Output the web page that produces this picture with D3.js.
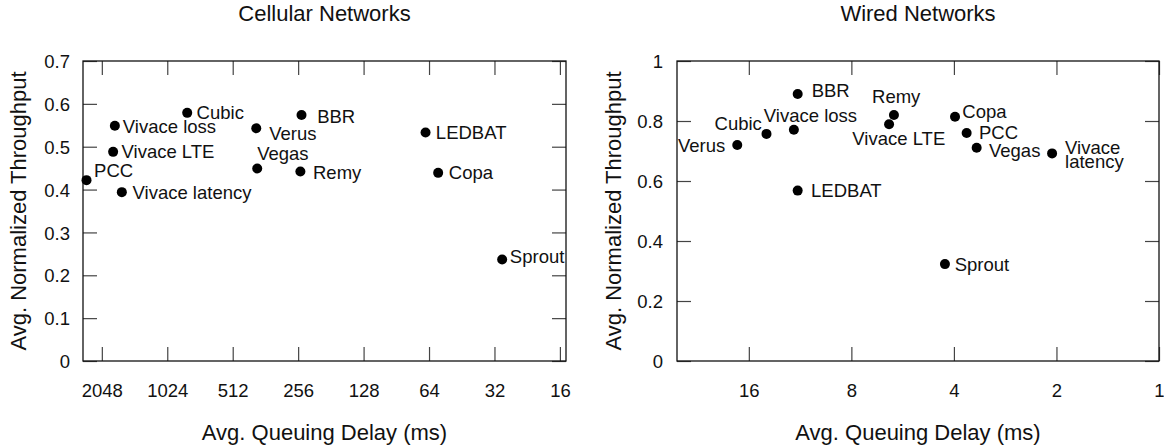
<!DOCTYPE html>
<html>
<head>
<meta charset="utf-8">
<script src="https://cdn.jsdelivr.net/npm/d3@7"></script>
<style>
  html, body { margin: 0; padding: 0; background: #fff; }
  svg { display: block; }
  text { font-family: Helvetica, "Liberation Sans", Arial, sans-serif; fill: #111; }
</style>
</head>
<body>
<svg id="chart" width="1164" height="448"></svg>
<script>
// ---------- data ----------
const cellularNames = ["PCC", "Vivace loss", "Vivace LTE", "Vivace latency", "Cubic", "Verus", "Vegas", "BBR", "Remy", "LEDBAT", "Copa", "Sprout"];
const cellularDelay = [2409, 1784, 1817, 1657, 829, 399, 395, 247, 250, 66.4, 58.1, 29.5];
const cellularThroughput = [0.422, 0.549, 0.488, 0.394, 0.579, 0.543, 0.449, 0.574, 0.442, 0.533, 0.439, 0.237];
const cellularXTicks = [2048, 1024, 512, 256, 128, 64, 32, 16];
const cellularYTicks = [0, 0.1, 0.2, 0.3, 0.4, 0.5, 0.6, 0.7];

const wiredNames = ["BBR", "Vivace loss", "Cubic", "Verus", "LEDBAT", "Remy", "Vivace LTE", "Copa", "PCC", "Vegas", "Vivace latency", "Sprout"];
const wiredDelay = [11.5, 11.8, 14.2, 17.3, 11.5, 6.0, 6.2, 3.97, 3.67, 3.43, 2.06, 4.25];
const wiredThroughput = [0.89, 0.771, 0.757, 0.72, 0.568, 0.82, 0.789, 0.814, 0.76, 0.711, 0.692, 0.323];
const wiredXTicks = [16, 8, 4, 2, 1];
const wiredYTicks = [0, 0.2, 0.4, 0.6, 0.8, 1];

const titles = ["Cellular Networks", "Wired Networks"];
const xTitle = "Avg. Queuing Delay (ms)";
const yTitle = "Avg. Normalized Throughput";

// ---------- layout (label placement, not data) ----------
const cellularLabelLayout = {
  "PCC": {a: "start", dx: 7.6, dy: -3},
  "Vivace loss": {a: "start", dx: 8, dy: 7},
  "Vivace LTE": {a: "start", dx: 8.4, dy: 6.6},
  "Vivace latency": {a: "start", dx: 10.7, dy: 7},
  "Cubic": {a: "start", dx: 9.4, dy: 6},
  "Verus": {a: "start", dx: 13, dy: 11.7},
  "Vegas": {a: "start", dx: 0, dy: -8.7},
  "BBR": {a: "start", dx: 15.6, dy: 7.7},
  "Remy": {a: "start", dx: 12.6, dy: 7.6},
  "LEDBAT": {a: "start", dx: 10.3, dy: 6.6},
  "Copa": {a: "start", dx: 10.7, dy: 6},
  "Sprout": {a: "start", dx: 7.7, dy: 3.6}
};
const wiredLabelLayout = {
  "BBR": {a: "start", dx: 14, dy: 3.3},
  "Vivace loss": {a: "start", dx: -30, dy: -8},
  "Cubic": {a: "end", dx: -4.6, dy: -4},
  "Verus": {a: "end", dx: -12, dy: 6.7},
  "LEDBAT": {a: "start", dx: 13.4, dy: 6},
  "Remy": {a: "middle", dx: 2.3, dy: -11.7},
  "Vivace LTE": {a: "middle", dx: 9.7, dy: 20.7},
  "Copa": {a: "start", dx: 7.3, dy: 1.6},
  "PCC": {a: "start", dx: 12.3, dy: 6.3},
  "Vegas": {a: "start", dx: 12.3, dy: 9},
  "Vivace latency": {a: "start", dx: 13, dy: 1, wrap: true, lh: 14},
  "Sprout": {a: "start", dx: 9.7, dy: 6.7}
};

const panels = [
  {names: cellularNames, xs: cellularDelay, ys: cellularThroughput, xTicks: cellularXTicks, yTicks: cellularYTicks,
   xDomain: [2500, 15], yDomain: [0, 0.7], left: 83, right: 566, yLabelX: 70, yTitleX: 26, title: titles[0], layout: cellularLabelLayout},
  {names: wiredNames, xs: wiredDelay, ys: wiredThroughput, xTicks: wiredXTicks, yTicks: wiredYTicks,
   xDomain: [26, 1], yDomain: [0, 1], left: 677, right: 1159, yLabelX: 663, yTitleX: 621, title: titles[1], layout: wiredLabelLayout}
];

const plotTop = 61, plotBottom = 361, tickLen = 14;
const svg = d3.select("#chart");

panels.forEach(p => {
  const x = d3.scaleLog().base(2).domain(p.xDomain).range([p.left, p.right]);
  const y = d3.scaleLinear().domain(p.yDomain).range([plotBottom, plotTop]);
  const g = svg.append("g");
  const fmtY = d => (d === 0 || d === 1) ? String(d) : d3.format(".1f")(d);

  const bottomAxis = d3.axisBottom(x).tickValues(p.xTicks).tickSize(-tickLen).tickFormat(d => String(d));
  const topAxis = d3.axisTop(x).tickValues(p.xTicks).tickSize(-tickLen).tickFormat("");
  const leftAxis = d3.axisLeft(y).tickValues(p.yTicks).tickSize(-tickLen).tickFormat(fmtY);
  const rightAxis = d3.axisRight(y).tickValues(p.yTicks).tickSize(-tickLen).tickFormat("");

  const gb = g.append("g").attr("transform", `translate(0,${plotBottom})`).call(bottomAxis);
  const gt = g.append("g").attr("transform", `translate(0,${plotTop})`).call(topAxis);
  const gl = g.append("g").attr("transform", `translate(${p.left},0)`).call(leftAxis);
  const gr = g.append("g").attr("transform", `translate(${p.right},0)`).call(rightAxis);
  [gb, gt, gl, gr].forEach(a => {
    a.select(".domain").remove();
    a.selectAll(".tick line").attr("stroke", "#444").attr("stroke-width", 1.2);
    a.selectAll(".tick text").style("font-size", "18.5px").attr("fill", "#111")
      .style("font-family", 'Helvetica, "Liberation Sans", Arial, sans-serif');
  });
  gl.selectAll(".tick text").attr("text-anchor", "end").attr("x", p.yLabelX - p.left).attr("dy", "0.36em");
  gb.selectAll(".tick text").attr("dy", null).attr("y", 36);

  // frame
  g.append("rect").attr("x", p.left).attr("y", plotTop).attr("width", p.right - p.left).attr("height", plotBottom - plotTop)
    .attr("fill", "none").attr("stroke", "#111").attr("stroke-width", 1.3);

  // titles
  const cx = (p.left + p.right) / 2;
  g.append("text").attr("x", cx).attr("y", 21).attr("text-anchor", "middle").style("font-size", "22px").text(p.title);
  g.append("text").attr("x", cx).attr("y", 440).attr("text-anchor", "middle").style("font-size", "22px").text(xTitle);
  g.append("text").attr("transform", `translate(${p.yTitleX},${(plotTop + plotBottom) / 2}) rotate(-90)`)
    .attr("text-anchor", "middle").style("font-size", "22px").text(yTitle);

  // points
  const pts = p.names.map((n, i) => ({name: n, x: p.xs[i], y: p.ys[i]}));
  g.selectAll("circle.pt").data(pts).enter().append("circle")
    .attr("class", "pt").attr("cx", d => x(d.x)).attr("cy", d => y(d.y)).attr("r", 5).attr("fill", "#000");

  // labels
  pts.forEach(d => {
    const L = p.layout[d.name];
    const t = g.append("text").attr("text-anchor", L.a).style("font-size", "18.5px");
    const tx = x(d.x) + L.dx, ty = y(d.y) + L.dy;
    if (L.wrap) {
      d.name.split(" ").forEach((w, k) => {
        t.append("tspan").attr("x", tx).attr("y", ty + k * L.lh).text(w);
      });
    } else {
      t.attr("x", tx).attr("y", ty).text(d.name);
    }
  });
});
</script>
</body>
</html>
